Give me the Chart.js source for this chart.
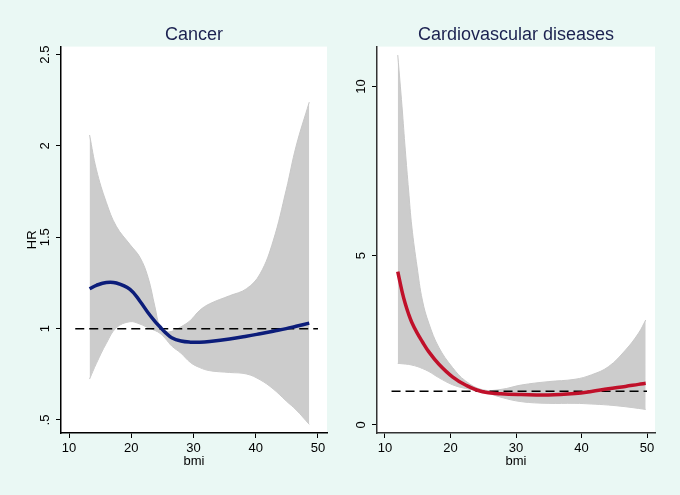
<!DOCTYPE html>
<html>
<head>
<meta charset="utf-8">
<script src="https://cdn.jsdelivr.net/npm/chart.js@4.4.1/dist/chart.umd.min.js"></script>
<style>
  html, body { margin: 0; padding: 0; background: #eaf8f4; }
  #wrap { position: relative; width: 680px; height: 495px; }
  .panel { position: absolute; top: 0; width: 340px; height: 495px; }
</style>
</head>
<body>
<div id="wrap">
  <div class="panel" style="left:0"><canvas id="chartCancer" width="340" height="495"></canvas></div>
  <div class="panel" style="left:340px"><canvas id="chartCvd" width="340" height="495"></canvas></div>
</div>
<script>
// Cancer panel (HR vs bmi)
const cancerBmi = [13.3, 14.4, 16, 17.6, 19.8, 21.4, 22.7, 23.8, 24.6, 25.5, 26.5, 28, 29.5, 31, 32.6, 35.8, 38.5, 40.7, 42.8, 44.9, 46.5, 48.6];
const cancerHr = [1.218, 1.237, 1.253, 1.25, 1.215, 1.15, 1.087, 1.04, 1.01, 0.978, 0.95, 0.932, 0.926, 0.926, 0.93, 0.943, 0.958, 0.972, 0.986, 1.0, 1.013, 1.03];
const cancerUpper = [2.06, 1.87, 1.69, 1.56, 1.46, 1.39, 1.28, 1.12, 1.01, 0.985, 0.985, 1.01, 1.045, 1.1, 1.136, 1.18, 1.218, 1.3, 1.48, 1.76, 2.0, 2.24];
const cancerLower = [0.724, 0.81, 0.92, 1.005, 1.038, 1.025, 1.005, 0.99, 0.975, 0.945, 0.905, 0.865, 0.815, 0.787, 0.77, 0.76, 0.752, 0.72, 0.67, 0.604, 0.555, 0.476];
const cancerYTicks = [0.5, 1, 1.5, 2, 2.5];

// Cardiovascular panel
const cvdBmi = [11.95, 12.6, 13.1, 13.6, 14.1, 14.9, 15.7, 16.7, 18.2, 20.3, 22.3, 24.9, 27.7, 30.8, 34.9, 39, 41.5, 44.1, 46.7, 48.7, 49.8];
const cvdHr = [4.53, 3.95, 3.58, 3.28, 3.03, 2.72, 2.46, 2.16, 1.8, 1.42, 1.18, 0.98, 0.925, 0.9, 0.886, 0.93, 0.99, 1.07, 1.14, 1.2, 1.23];
const cvdUpper = [10.93, 9.4, 8.12, 6.94, 5.85, 4.67, 3.69, 3.0, 2.3, 1.7, 1.3, 1.04, 1.05, 1.18, 1.28, 1.35, 1.48, 1.72, 2.21, 2.71, 3.1];
const cvdLower = [1.82, 1.81, 1.8, 1.79, 1.77, 1.73, 1.67, 1.58, 1.4, 1.19, 1.08, 0.99, 0.82, 0.69, 0.64, 0.64, 0.62, 0.59, 0.54, 0.49, 0.46];
const cvdYTicks = [0, 5, 10];

const bmiTicks = [10, 20, 30, 40, 50];
const refBmi = [11, 50];
const refHr = [1, 1];

Chart.defaults.font.family = "'Liberation Sans', Arial, sans-serif";

const plotBg = {
  id: 'plotBg',
  beforeDraw(chart) {
    const { ctx, chartArea: a } = chart;
    ctx.save();
    ctx.fillStyle = '#ffffff';
    ctx.fillRect(a.left, a.top, a.right - a.left, a.bottom - a.top);
    ctx.restore();
  },
};

function toPoints(xs, ys) {
  return xs.map((x, i) => ({ x, y: ys[i] }));
}

function fmtHr(v) {
  // Stata style: .5 instead of 0.5
  const s = String(v);
  return s.startsWith('0.') ? s.slice(1) : s;
}

function makePanel(id, p) {
  const ctx = document.getElementById(id).getContext('2d');
  return new Chart(ctx, {
    type: 'line',
    data: {
      datasets: [
        {
          data: toPoints(p.bmi, p.hr),
          borderColor: p.color,
          borderWidth: 3.5,
          pointRadius: 0,
          tension: 0.4,
          fill: false,
        },
        {
          data: toPoints(refBmi, refHr),
          borderColor: '#000000',
          borderWidth: 1.5,
          borderDash: [9, 5],
          pointRadius: 0,
          fill: false,
        },
        {
          data: toPoints(p.bmi, p.upper),
          borderColor: '#c8c8c8',
          borderWidth: 1,
          backgroundColor: '#cccccc',
          pointRadius: 0,
          tension: 0.4,
          fill: '+1',
        },
        {
          data: toPoints(p.bmi, p.lower),
          borderColor: '#c8c8c8',
          borderWidth: 1,
          pointRadius: 0,
          tension: 0.4,
          fill: false,
        },
      ],
    },
    options: {
      responsive: false,
      animation: false,
      layout: { padding: { top: 0, left: 0, right: p.padRight, bottom: 0 } },
      plugins: {
        legend: { display: false },
        tooltip: { enabled: false },
        title: {
          display: true,
          text: p.title,
          fullSize: false,
          color: '#1b2150',
          font: { size: 18, weight: 'normal' },
          padding: { top: 24, bottom: 1 },
        },
      },
      scales: {
        x: {
          type: 'linear',
          min: p.xMin,
          max: p.xMax,
          afterBuildTicks: (s) => { s.ticks = bmiTicks.map((v) => ({ value: v })); },
          afterFit: (s) => { s.height = 62; },
          grid: { drawOnChartArea: false, color: '#000', tickLength: 5 },
          border: { color: p.axisColor, width: 1.5 },
          ticks: { color: '#000', font: { size: 13 }, padding: 3 },
          title: { display: true, text: 'bmi', color: '#000', font: { size: 13 }, padding: { top: 0, bottom: 26 } },
        },
        y: {
          type: 'linear',
          min: p.yMin,
          max: p.yMax,
          afterBuildTicks: (s) => { s.ticks = p.yTicks.map((v) => ({ value: v })); },
          afterFit: (s) => { s.width = p.yWidth; },
          grid: { drawOnChartArea: false, color: '#000', tickLength: 5 },
          border: { color: p.axisColor, width: 1.5 },
          ticks: {
            color: '#000',
            font: { size: 13 },
            minRotation: 90,
            maxRotation: 90,
            crossAlign: 'center',
            padding: p.yPad,
            callback: (v) => fmtHr(v),
          },
          title: { display: p.yTitle !== '', text: p.yTitle, color: '#000', font: { size: 13 }, padding: { top: 25, bottom: 0 } },
        },
      },
    },
    plugins: [plotBg],
  });
}

makePanel('chartCancer', {
  title: 'Cancer',
  bmi: cancerBmi, hr: cancerHr, upper: cancerUpper, lower: cancerLower,
  yTicks: cancerYTicks,
  color: '#0c1d7a',
  xMin: 8.71, xMax: 51.45, yMin: 0.4286, yMax: 2.544,
  yWidth: 61, padRight: 13, yPad: 2, yTitle: 'HR', axisColor: '#000',
});

makePanel('chartCvd', {
  title: 'Cardiovascular diseases',
  bmi: cvdBmi, hr: cvdHr, upper: cvdUpper, lower: cvdLower,
  yTicks: cvdYTicks,
  color: '#c0102a',
  xMin: 8.78, xMax: 51.22, yMin: -0.237, yMax: 11.18,
  yWidth: 37, padRight: 25, yPad: 3, yTitle: '', axisColor: '#333',
});
</script>
</body>
</html>
